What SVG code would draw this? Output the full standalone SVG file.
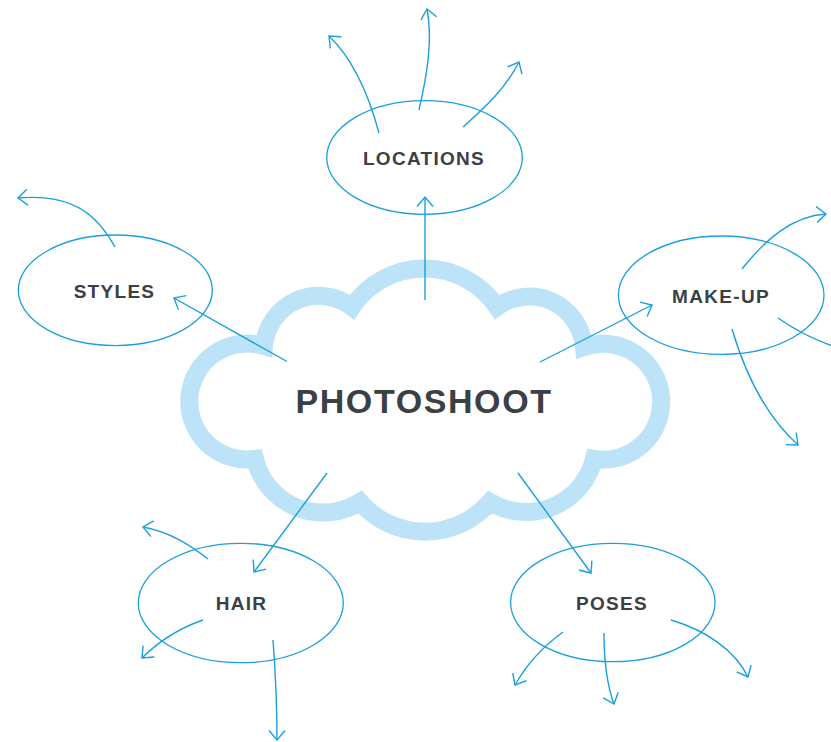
<svg xmlns="http://www.w3.org/2000/svg" width="831" height="742" viewBox="0 0 831 742">
<style>
.cloud{fill:#ffffff;stroke:#bde3f8;stroke-width:18;stroke-linejoin:miter}
.node{fill:none;stroke:#1a9fdf;stroke-width:1.3}
.lbl{font-family:"Liberation Sans",Arial,sans-serif;font-weight:bold;font-size:19px;letter-spacing:1.3px;fill:#3b4044;text-anchor:middle}
.main{font-family:"Liberation Sans",Arial,sans-serif;font-weight:bold;font-size:34px;letter-spacing:1.6px;fill:#3b4044;text-anchor:middle}
.con{fill:none;stroke:#1a9fdf;stroke-width:1.4;marker-end:url(#ah)}
</style>
<defs>
<marker id="ah" markerUnits="userSpaceOnUse" orient="auto" refX="0" refY="0" markerWidth="20" markerHeight="20" overflow="visible">
<path d="M-9.5,-8 L0,0 L-9.5,8" fill="none" stroke="#1a9fdf" stroke-width="1.4"/>
</marker>
</defs>
<rect width="831" height="742" fill="#ffffff"/>
<g id="photoshoot">
<path class="cloud" d="M255,459 A58,58 0 1 1 264,346 A55,55 0 0 1 352,307 A87.5,87.5 0 0 1 497,307 A55,55 0 0 1 584,347 A58,58 0 1 1 594,459 A70,70 0 0 1 490,502 A86,86 0 0 1 360,502 A70,70 0 0 1 255,459 Z"/>
<text class="main" x="424" y="413">PHOTOSHOOT</text>
</g>
<g id="locations">
<ellipse class="node" cx="424.5" cy="157.5" rx="97.8" ry="56.8"/>
<text class="lbl" x="424" y="165">LOCATIONS</text>
</g>
<g id="styles">
<ellipse class="node" cx="115.3" cy="290.3" rx="97" ry="55.3"/>
<text class="lbl" x="114.5" y="297.5">STYLES</text>
</g>
<g id="make-up">
<ellipse class="node" cx="721.2" cy="295.2" rx="102.8" ry="59.2"/>
<text class="lbl" x="721" y="302.5">MAKE-UP</text>
</g>
<g id="hair">
<ellipse class="node" cx="240.8" cy="603" rx="102.5" ry="59.7"/>
<text class="lbl" x="241.5" y="610">HAIR</text>
</g>
<g id="poses">
<ellipse class="node" cx="612.8" cy="602.5" rx="102.2" ry="59.2"/>
<text class="lbl" x="612" y="610">POSES</text>
</g>
<g id="connectors">
<path class="con" d="M425,300 L425,197"/>
<path class="con" d="M287,361.5 L174,298"/>
<path class="con" d="M540,362 L652,305"/>
<path class="con" d="M327,473 L254,572"/>
<path class="con" d="M518,473 L591,573"/>
<path class="con" d="M379,133 C368,92 352,58 329,36"/>
<path class="con" d="M419,110 C427,75 433,40 427,9"/>
<path class="con" d="M463,127 C482,110 505,90 519,62"/>
<path class="con" d="M115,247 C100,220 78,193 18,198"/>
<path class="con" d="M742,269 C765,240 792,216 826,214"/>
<path class="con" style="marker-end:none" d="M778,318 C795,330 815,340 835,347"/>
<path class="con" d="M732,329 C748,383 770,420 798,445"/>
<path class="con" d="M208,559 C190,545 170,532 143,527"/>
<path class="con" d="M203,620 C180,628 160,640 142,658"/>
<path class="con" d="M273,640 C276,680 277,710 277,740"/>
<path class="con" d="M563,632 C545,645 528,662 515,685"/>
<path class="con" d="M604,633 C604,660 607,685 614,704"/>
<path class="con" d="M671,620 C705,630 735,650 748,677"/>
</g>
</svg>
